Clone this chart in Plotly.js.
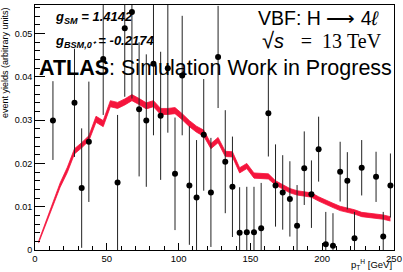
<!DOCTYPE html>
<html>
<head>
<meta charset="utf-8">
<script src="https://cdn.plot.ly/plotly-3.0.1.min.js"></script>
<style>html,body{margin:0;padding:0;background:#fff;}#plot{width:403px;height:272px;}</style>
</head>
<body>
<div id="plot"></div>
<script>
// Simulated data points (bin centres in GeV)
const ptPoints = [12.5, 27.5, 32.5, 37.5, 47.5, 57.5, 62.5, 67.5, 72.5, 77.5, 82.5, 87.5, 92.5, 97.5, 102.5, 107.5, 112.5, 117.5, 122.5, 127.5, 132.5, 137.5, 142.5, 147.5, 152.5, 157.5, 162.5, 167.5, 172.5, 177.5, 182.5, 187.5, 192.5, 197.5, 202.5, 207.5, 212.5, 217.5, 222.5, 227.5, 237.5, 242.5, 247.5];
const yieldPoints = [0.0299, 0.0340, 0.0143, 0.0250, 0.0441, 0.0156, 0.0512, 0.0550, 0.0325, 0.0299, 0.0430, 0.0310, 0.0420, 0.0176, 0.0403, 0.0149, 0.0121, 0.0266, 0.0133, 0.0446, 0.0204, 0.0146, 0.0040, 0.0041, 0.0041, 0.0050, 0.0316, 0.0149, 0.0133, 0.0118, 0.0056, 0.0189, 0.0129, 0.0233, 0.0013, 0.0010, 0.0181, 0.0160, 0.0027, 0.0190, 0.0169, 0.0031, 0.0149];
const yieldErrors = [0.0091, 0.0125, 0.0138, 0.0139, 0.0129, 0.0156, 0.0158, 0.0200, 0.0155, 0.0153, 0.0165, 0.0148, 0.0149, 0.0130, 0.0138, 0.0137, 0.0133, 0.0129, 0.0126, 0.0118, 0.0119, 0.0116, 0.0105, 0.0105, 0.0105, 0.0105, 0.0100, 0.0095, 0.0086, 0.0087, 0.0094, 0.0085, 0.0078, 0.0075, 0.0075, 0.0075, 0.0069, 0.0066, 0.0061, 0.0064, 0.0058, 0.0057, 0.0074];

// Reference prediction (red band)
const binCenters = [2.5, 7.5, 12.5, 17.5, 22.5, 27.5, 32.5, 37.5, 42.5, 47.5, 52.5, 57.5, 62.5, 67.5, 72.5, 77.5, 82.5, 87.5, 92.5, 97.5, 102.5, 107.5, 112.5, 117.5, 122.5, 127.5, 132.5, 137.5, 142.5, 147.5, 152.5, 157.5, 162.5, 167.5, 172.5, 177.5, 182.5, 187.5, 192.5, 197.5, 202.5, 207.5, 212.5, 217.5, 222.5, 227.5, 232.5, 237.5, 242.5, 247.5];
const predValues = [0.0018, 0.0062, 0.0105, 0.0150, 0.0185, 0.0228, 0.0242, 0.0258, 0.0302, 0.0292, 0.0338, 0.0334, 0.0342, 0.0352, 0.0343, 0.0333, 0.0338, 0.0320, 0.0320, 0.0322, 0.0308, 0.0292, 0.0279, 0.0270, 0.0240, 0.0254, 0.0222, 0.0221, 0.0184, 0.0194, 0.0172, 0.0171, 0.0170, 0.0155, 0.0145, 0.0137, 0.0132, 0.0130, 0.0127, 0.0118, 0.0110, 0.0103, 0.0096, 0.0092, 0.0088, 0.0082, 0.0080, 0.0078, 0.0076, 0.0072];
const predErrors = [0.0002, 0.0003, 0.0004, 0.0005, 0.0006, 0.0006, 0.0006, 0.0006, 0.0007, 0.0007, 0.0007, 0.0007, 0.0007, 0.0007, 0.0007, 0.0007, 0.0007, 0.0007, 0.0007, 0.0007, 0.0007, 0.0007, 0.0007, 0.0007, 0.0006, 0.0006, 0.0006, 0.0006, 0.0006, 0.0006, 0.0006, 0.0006, 0.0006, 0.0005, 0.0005, 0.0005, 0.0005, 0.0005, 0.0005, 0.0005, 0.0005, 0.0005, 0.0005, 0.0005, 0.0005, 0.0005, 0.0005, 0.0005, 0.0005, 0.0005];

const xTicks = [0, 50, 100, 150, 200, 250];
const yTicks = [0, 0.01, 0.02, 0.03, 0.04, 0.05];

const red = '#f5143c';
const upper = predValues.map((v, i) => v + predErrors[i]);
const lower = predValues.map((v, i) => v - predErrors[i]);

const traces = [
  {x: binCenters, y: lower, mode: 'lines', line: {color: red, width: 0.8}, hoverinfo: 'skip', showlegend: false},
  {x: binCenters, y: upper, mode: 'lines', fill: 'tonexty', fillcolor: red, line: {color: red, width: 0.8}, hoverinfo: 'skip', showlegend: false},
  {x: ptPoints, y: yieldPoints, mode: 'markers', type: 'scatter',
   marker: {color: '#000', size: 6},
   error_y: {type: 'data', array: yieldErrors, visible: true, width: 0, thickness: 1, color: '#222'},
   showlegend: false, cliponaxis: true}
];

const font = 'Liberation Sans, Arial, Helvetica, sans-serif';
const layout = {
  width: 403, height: 272,
  margin: {l: 35, r: 9, t: 5, b: 22},
  paper_bgcolor: '#fff', plot_bgcolor: '#fff',
  font: {family: font, color: '#000'},
  xaxis: {
    range: [0, 250], tickvals: xTicks, ticktext: xTicks.map(String),
    ticks: 'inside', ticklen: 7, tickwidth: 1, tickcolor: '#000',
    minor: {dtick: 10, ticks: 'inside', ticklen: 4, tickcolor: '#000', tickwidth: 1},
    showline: true, linecolor: '#000', linewidth: 1, mirror: true,
    showgrid: false, zeroline: false,
    tickfont: {size: 9.5, family: font, color: '#000'}
  },
  yaxis: {
    range: [0, 0.0566], tickvals: yTicks, ticktext: ['0', '0.01', '0.02', '0.03', '0.04', '0.05'],
    ticks: 'inside', ticklen: 10, tickwidth: 1, tickcolor: '#000',
    minor: {dtick: 0.002, ticks: 'inside', ticklen: 5, tickcolor: '#000', tickwidth: 1},
    showline: true, linecolor: '#000', linewidth: 1, mirror: true,
    showgrid: false, zeroline: false,
    tickfont: {size: 9, family: font, color: '#000'}
  },
  annotations: [
    {xref: 'paper', yref: 'paper', x: -0.085, y: 1.0, xanchor: 'center', yanchor: 'top', textangle: -90,
     text: 'event yields (arbitrary units)', showarrow: false, font: {size: 9, color: '#000'}},
    {xref: 'paper', yref: 'paper', x: 1.0, y: -0.094, xanchor: 'right', yanchor: 'bottom',
     text: 'p<sub>T</sub><sup>H</sup> [GeV]', showarrow: false, font: {size: 9.5, color: '#000'}},
    {xref: 'paper', yref: 'paper', x: 0.05, y: 0.99, xanchor: 'left', yanchor: 'top',
     text: '<b><i>g<sub>SM</sub> = 1.4142</i></b>', showarrow: false, font: {size: 13, color: '#000'}},
    {xref: 'paper', yref: 'paper', x: 0.05, y: 0.895, xanchor: 'left', yanchor: 'top',
     text: '<b><i>g<sub>BSM,0⁺</sub> = -0.2174</i></b>', showarrow: false, font: {size: 13, color: '#000'}},
    {xref: 'paper', yref: 'paper', x: 0.965, y: 1.0, xanchor: 'right', yanchor: 'top',
     text: 'VBF: H ⟶&nbsp;4<i>ℓ</i>', showarrow: false, font: {size: 19.5, color: '#000'}},
    {xref: 'paper', yref: 'paper', x: 0.972, y: 0.915, xanchor: 'right', yanchor: 'top',
     text: '<span style="font-size:22px">√</span><i>s</i>&nbsp;&nbsp;&nbsp;<span style="font-family:Liberation Serif, serif">=&nbsp;&nbsp;13&nbsp;TeV</span>', showarrow: false, font: {size: 20, color: '#000'}},
    {xref: 'paper', yref: 'paper', x: 1.0, y: 0.80, xanchor: 'right', yanchor: 'top',
     text: '<b>ATLAS</b>: Simulation Work in Progress', showarrow: false, font: {size: 21.5, color: '#000'}}
  ]
};

Plotly.newPlot('plot', traces, layout, {staticPlot: true, displayModeBar: false});
</script>
</body>
</html>
